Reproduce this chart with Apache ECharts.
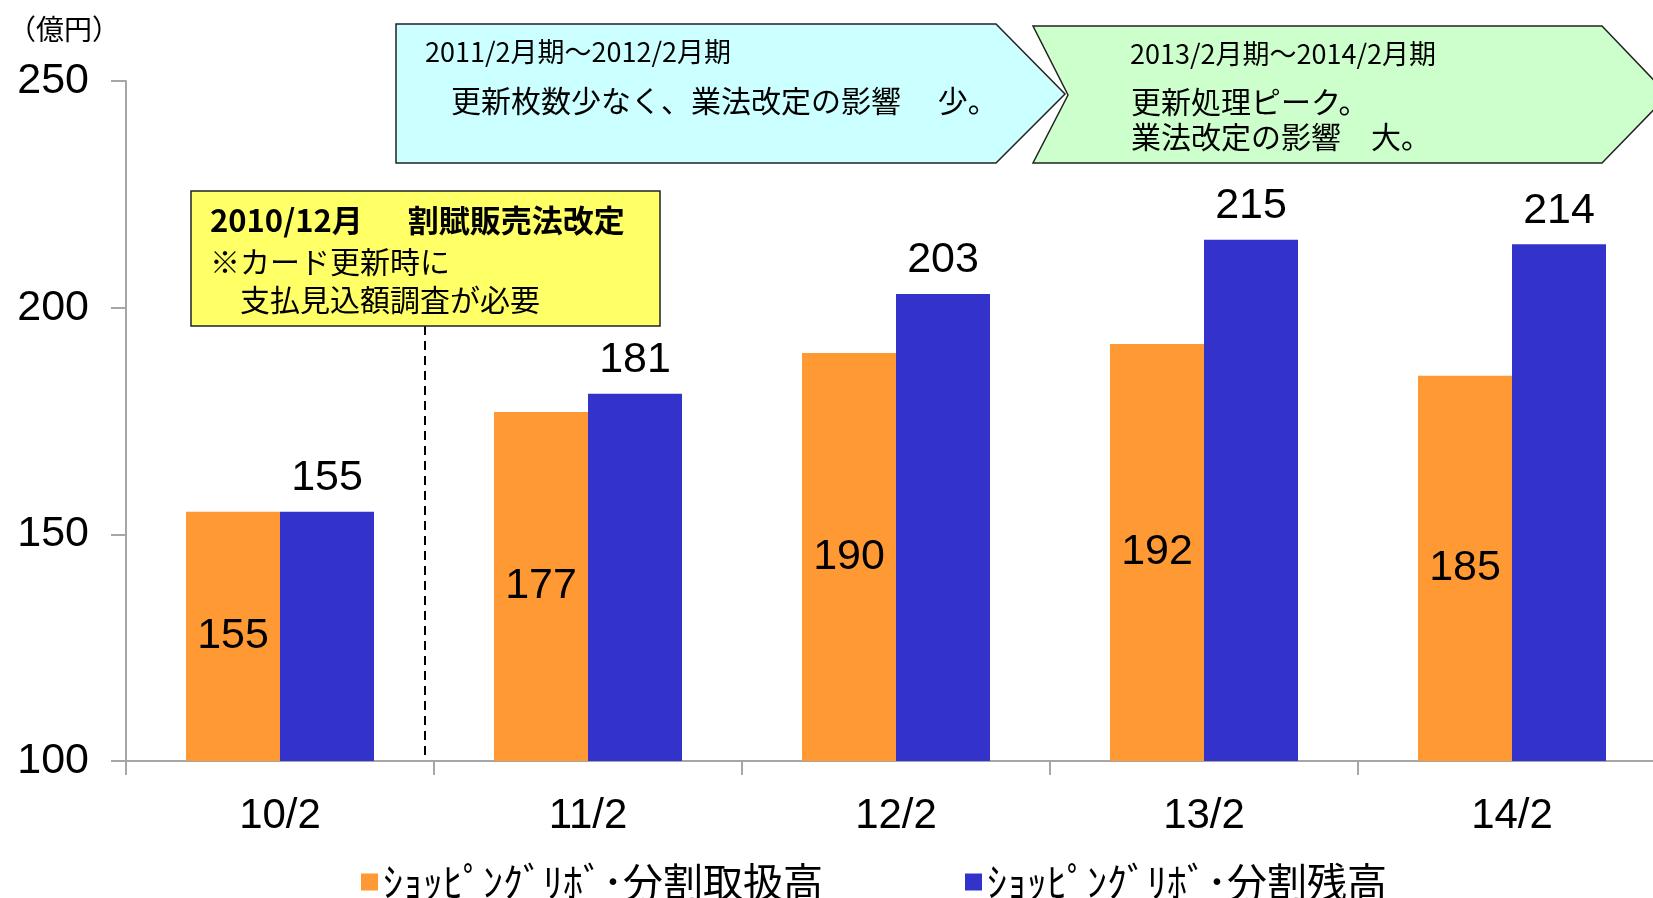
<!DOCTYPE html>
<html>
<head>
<meta charset="utf-8">
<script src="https://cdn.jsdelivr.net/npm/echarts@6/dist/echarts.min.js"></script>
<style>
  html, body { margin: 0; padding: 0; background: #fff; overflow: hidden; }
  #main { width: 1666px; height: 898px; }
</style>
</head>
<body>
<div id="main"></div>
<script>
// 期（2月期）
var categories = ['10/2', '11/2', '12/2', '13/2', '14/2'];
// ｼｮｯﾋﾟﾝｸﾞﾘﾎﾞ･分割取扱高（億円）
var handled = [155, 177, 190, 192, 185];
// ｼｮｯﾋﾟﾝｸﾞﾘﾎﾞ･分割残高（億円）
var balance = [155, 181, 203, 215, 214];
var seriesNames = ['ｼｮｯﾋﾟﾝｸﾞﾘﾎﾞ･分割取扱高', 'ｼｮｯﾋﾟﾝｸﾞﾘﾎﾞ･分割残高'];
var yTicks = { min: 100, max: 250, interval: 50 };

var jp = '"Noto Sans CJK JP", sans-serif';
var num = '"Liberation Sans", Arial, sans-serif';

// 右端は画面外まで続くので、div を少し広くしている
var chart = echarts.init(document.getElementById('main'));

var option = {
  backgroundColor: '#fff',
  animation: false,
  grid: { left: 126, right: 0, top: 81, bottom: 137, containLabel: false },
  legend: {
    left: 356,
    top: 857,
    itemWidth: 17,
    itemHeight: 17,
    itemGap: 142,
    icon: 'rect',
    textStyle: { fontSize: 40, fontFamily: jp, color: '#000' },
    data: seriesNames
  },
  xAxis: {
    type: 'category',
    data: categories,
    axisLine: { lineStyle: { color: '#a6a6a6', width: 2 } },
    axisTick: { show: true, length: 14, lineStyle: { color: '#a6a6a6', width: 2 } },
    axisLabel: { fontSize: 42, fontFamily: num, color: '#000', margin: 34 }
  },
  yAxis: {
    type: 'value',
    min: yTicks.min,
    max: yTicks.max,
    interval: yTicks.interval,
    splitLine: { show: false },
    axisLine: { show: true, lineStyle: { color: '#a6a6a6', width: 2 } },
    axisTick: { show: true, length: 15, lineStyle: { color: '#a6a6a6', width: 2 } },
    axisLabel: { fontSize: 43, fontFamily: num, color: '#000', margin: 37 }
  },
  series: [
    {
      name: seriesNames[0],
      type: 'bar',
      data: handled,
      barWidth: 94,
      barGap: '0%',
      itemStyle: { color: '#ff9933' },
      label: {
        show: true,
        position: 'inside',
        fontSize: 43,
        fontFamily: num,
        color: '#000'
      }
    },
    {
      name: seriesNames[1],
      type: 'bar',
      data: balance,
      barWidth: 94,
      barGap: '0%',
      itemStyle: { color: '#3333cc' },
      label: {
        show: true,
        position: 'top',
        distance: 12,
        fontSize: 43,
        fontFamily: num,
        color: '#000'
      }
    }
  ],
  graphic: [
    {
      type: 'text',
      left: 8,
      top: 15,
      style: { text: '（億円）', fontSize: 28, fontFamily: jp, fill: '#000' }
    },
    {
      type: 'polygon',
      shape: { points: [[396, 24], [996, 24], [1065, 94], [996, 163], [396, 163]] },
      style: { fill: '#ccffff', stroke: '#222', lineWidth: 1.5 }
    },
    {
      type: 'text',
      left: 425,
      top: 38,
      style: { text: '2011/2月期～2012/2月期', fontSize: 27, fontFamily: jp, fill: '#000' }
    },
    {
      type: 'text',
      left: 451,
      top: 86,
      style: { text: '更新枚数少なく、業法改定の影響　 少。', fontSize: 30, fontFamily: jp, fill: '#000' }
    },
    {
      type: 'polygon',
      shape: { points: [[1033, 26], [1602, 26], [1668, 95], [1602, 163], [1033, 163], [1068, 95]] },
      style: { fill: '#ccffcc', stroke: '#222', lineWidth: 1.5 }
    },
    {
      type: 'text',
      left: 1130,
      top: 40,
      style: { text: '2013/2月期～2014/2月期', fontSize: 27, fontFamily: jp, fill: '#000' }
    },
    {
      type: 'text',
      left: 1131,
      top: 84,
      style: { text: '更新処理ピーク。\n業法改定の影響　大。', fontSize: 30, lineHeight: 35, fontFamily: jp, fill: '#000' }
    },
    {
      type: 'line',
      shape: { x1: 425, y1: 326, x2: 425, y2: 756 },
      style: { stroke: '#000', lineWidth: 2, lineDash: [9, 6] }
    },
    {
      type: 'rect',
      shape: { x: 191, y: 191, width: 469, height: 135 },
      style: { fill: '#ffff66', stroke: '#222', lineWidth: 1.5 }
    },
    {
      type: 'text',
      left: 210,
      top: 205,
      style: { text: '2010/12月　  割賦販売法改定', fontSize: 31, fontWeight: 'bold', fontFamily: jp, fill: '#000' }
    },
    {
      type: 'text',
      left: 210,
      top: 243,
      style: { text: '※カード更新時に\n　支払見込額調査が必要', fontSize: 30, lineHeight: 38, fontFamily: jp, fill: '#000' }
    }
  ]
};

chart.setOption(option);
</script>
</body>
</html>
